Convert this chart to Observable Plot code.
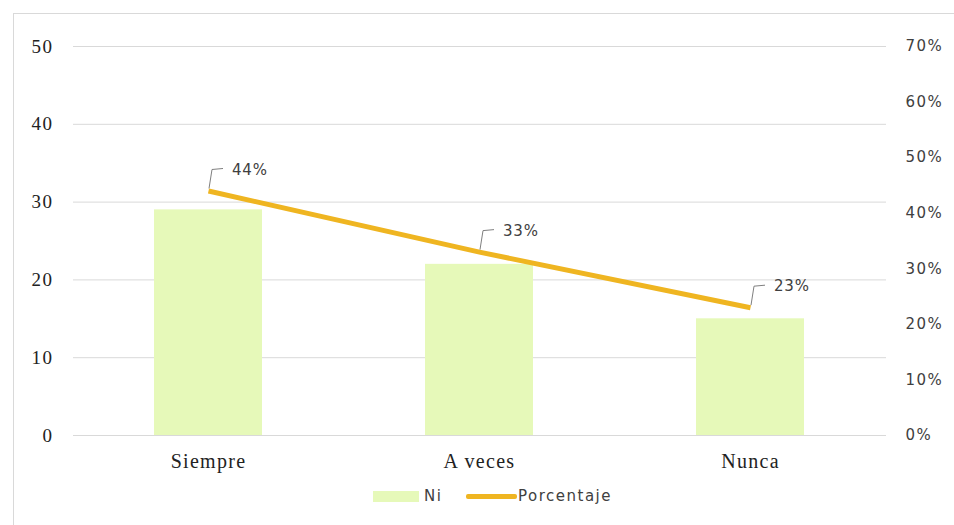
<!DOCTYPE html>
<html>
<head>
<meta charset="utf-8">
<script src="https://cdn.jsdelivr.net/npm/d3@7"></script>
<script src="https://cdn.jsdelivr.net/npm/@observablehq/plot@0.6"></script>
<style>
  html, body { margin: 0; padding: 0; background: #fff; overflow: hidden; }
  #wrap { position: relative; width: 954px; height: 525px; overflow: hidden; }
  #frame { position: absolute; left: 13px; top: 13px; width: 1000px; height: 600px;
           border: 1px solid #d9d9d9; box-sizing: border-box; }
  #chart { position: absolute; left: 0; top: 0; }
  #chart g[aria-label="x-axis tick label"] text { letter-spacing: 1.3px; }
  #chart g[aria-label="y-axis tick label"] text { letter-spacing: 1.5px; }
  #legend { position: absolute; left: 0; top: 484px; width: 954px; height: 24px;
            font-family: "DejaVu Sans", Tahoma, sans-serif; font-size: 15px; color: #404040;
            letter-spacing: 1.5px; }
  .item { position: absolute; top: 0; height: 24px; display: flex; align-items: center; }
  .swatch-bar { width: 46px; height: 11px; background: #e6f9b9; margin-right: 5px; }
  .swatch-line { width: 51px; height: 5px; background: #efb521; border-radius: 2px; margin-right: 1px; }
</style>
</head>
<body>
<div id="wrap">
  <div id="frame"></div>
  <div id="chart"></div>
  <div id="legend">
    <div class="item" style="left:373px"><span class="swatch-bar"></span><span>Ni</span></div>
    <div class="item" style="left:466px"><span class="swatch-line"></span><span>Porcentaje</span></div>
  </div>
</div>
<script>
// Respuestas por categoría
const categorias = ["Siempre", "A veces", "Nunca"];
const ni = [29, 22, 15];
const porcentaje = [44, 33, 23];

// Marcas de los ejes
const ticksNi = [0, 10, 20, 30, 40, 50];
const ticksPct = [0, 10, 20, 30, 40, 50, 60, 70];

const maxNi = 50;
const maxPct = 70;
// Lleva un porcentaje a la escala del eje izquierdo
const toLeft = p => p * maxNi / maxPct;

const rows = categorias.map((c, i) => ({categoria: c, ni: ni[i], pct: porcentaje[i]}));

const colorBar = "#e6f9b9";
const colorLine = "#efb521";
const textColor = "#404040";

// Línea guía desde cada punto hasta su etiqueta
function leaders(index, scales, values) {
  const g = d3.create("svg:g");
  const bwRaw = scales.x.bandwidth;
  const bw = typeof bwRaw === "function" ? bwRaw() : (bwRaw || 0);
  for (const i of index) {
    const px = values.x[i] + bw / 2;
    const py = values.y[i];
    g.append("path")
      .attr("d", `M${px + 1},${py - 2}L${px + 4},${py - 21}L${px + 15},${py - 22}`)
      .attr("fill", "none")
      .attr("stroke", "#7f7f7f")
      .attr("stroke-width", 1);
    g.append("text")
      .attr("x", px + 24)
      .attr("y", py - 21)
      .attr("dy", "0.35em")
      .attr("text-anchor", "start")
      .attr("fill", textColor)
      .attr("font-family", "'DejaVu Sans', Tahoma, sans-serif")
      .attr("font-size", 15)
      .attr("letter-spacing", "0.8px")
      .text(`${rows[i].pct}%`);
  }
  return g.node();
}

const chart = Plot.plot({
  width: 954,
  height: 480,
  marginTop: 46,
  marginBottom: 45,
  marginLeft: 73,
  marginRight: 68,
  style: {background: "transparent", overflow: "visible"},
  x: {domain: categorias, paddingInner: 0.6, paddingOuter: 0.3, label: null},
  y: {domain: [0, maxNi], label: null},
  marks: [
    Plot.ruleY(ticksNi, {stroke: "#d9d9d9", strokeWidth: 1}),
    Plot.barY(rows, {x: "categoria", y: "ni", fill: colorBar}),
    Plot.line(rows, {x: "categoria", y: d => toLeft(d.pct), stroke: colorLine, strokeWidth: 5, strokeLinecap: "butt"}),
    Plot.dot(rows, {x: "categoria", y: d => toLeft(d.pct), r: 0, render: leaders}),
    Plot.axisX({tickSize: 0, tickPadding: 18, fontSize: 20, fontFamily: "'Liberation Serif', 'Times New Roman', serif",
      fill: "#222", label: null}),
    Plot.axisY({anchor: "left", ticks: ticksNi, tickSize: 0, tickPadding: 20, fontSize: 19,
      fontFamily: "'Liberation Serif', 'Times New Roman', serif", fill: "#222", label: null}),
    Plot.axisY({anchor: "right", ticks: ticksPct.map(toLeft), tickSize: 0, tickPadding: 19, fontSize: 15,
      fontFamily: "'DejaVu Sans', Tahoma, sans-serif", fill: textColor, textAnchor: "start",
      tickFormat: v => `${Math.round(v * maxPct / maxNi)}%`, label: null})
  ]
});
document.getElementById("chart").appendChild(chart);
</script>
</body>
</html>
